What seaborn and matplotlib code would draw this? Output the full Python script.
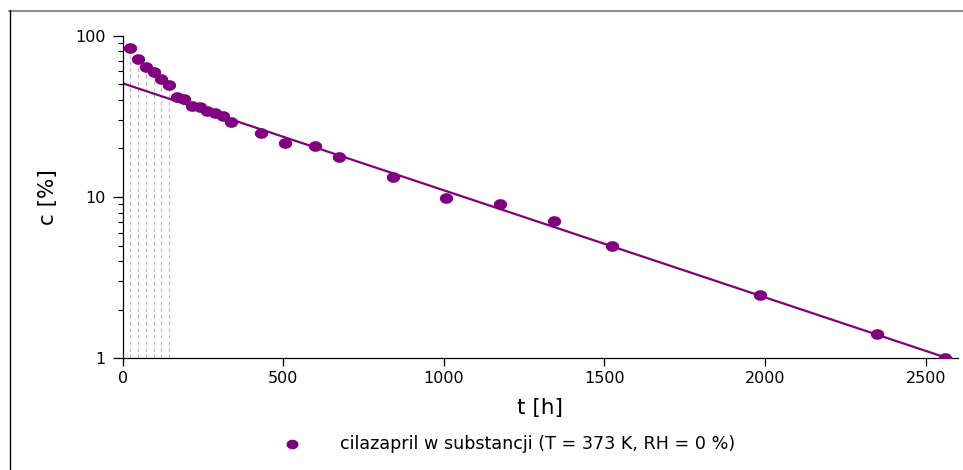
import matplotlib
matplotlib.use("Agg")
import matplotlib.pyplot as plt
from matplotlib.lines import Line2D
from matplotlib.path import Path
from matplotlib.ticker import LogLocator, FixedLocator, FixedFormatter, NullFormatter
import numpy as np
import pandas as pd
import seaborn as sns

# degradation of cilazapril: time [h] and remaining content [%]
t_h = [24, 48, 72, 96, 120, 144, 168, 192, 216, 240, 264, 288, 312, 336,
       432, 504, 600, 672, 840, 1008, 1176, 1344, 1524, 1984, 2348, 2560]
c_pct = [83.5, 71.7, 64.0, 59.8, 54.1, 49.7, 41.5, 40.5, 36.5, 36.0, 34.3, 33.0,
         31.8, 29.2, 24.8, 21.7, 20.7, 17.6, 13.25, 9.9, 9.0, 7.07, 4.97, 2.47,
         1.41, 1.01]

# first-order fit (straight on the log axis), given by its end points
fit_t = [0, 2576]
fit_c = [50.7, 0.99]

# early points marked with drop lines
n_drop = 6

x_ticks = [0, 500, 1000, 1500, 2000, 2500]
y_ticks = [1, 10, 100]
y_ticklabels = ["1", "10", "100"]

series_label = "cilazapril w substancji (T = 373 K, RH = 0 %)"
x_label = "t [h]"
y_label = "c [%]"

PURPLE = "#800080"

sns.set_style("white")
plt.rcParams["font.family"] = ["DejaVu Sans"]
plt.rcParams["text.color"] = "black"
plt.rcParams["axes.labelcolor"] = "black"
plt.rcParams["xtick.color"] = "black"
plt.rcParams["ytick.color"] = "black"

fig = plt.figure(figsize=(9.63, 4.70), dpi=100)
W, H = 963, 470
ax_l, ax_r = 122.7, 957.8
ax_t, ax_b = 35.7, 358.3
ax = fig.add_axes([ax_l / W, 1 - ax_b / H, (ax_r - ax_l) / W, (ax_b - ax_t) / H])

df = pd.DataFrame({"t": t_h, "c": c_pct})
fit_df = pd.DataFrame({"t": fit_t, "c": fit_c})

ax.set_yscale("log")
ax.set_xlim(0, 2600)
ax.set_ylim(1, 100)

# dashed drop lines from the first points to the time axis
for tx, cy in zip(t_h[:n_drop], c_pct[:n_drop]):
    ax.plot([tx, tx], [1, cy], color="#b5b5b5", lw=0.8, ls=(0, (3, 3)), zorder=1)

sns.lineplot(data=fit_df, x="t", y="c", color=PURPLE, lw=1.6, ax=ax, zorder=2)

# slightly flattened dot marker
theta = np.linspace(0, 2 * np.pi, 60)
ell = Path(np.column_stack([1.25 * np.cos(theta), np.sin(theta)]), closed=True)
sns.scatterplot(data=df, x="t", y="c", color=PURPLE, marker=ell, s=92,
                linewidth=0, ax=ax, zorder=3, label=series_label)

ax.xaxis.set_major_locator(FixedLocator(x_ticks))
ax.yaxis.set_major_locator(FixedLocator(y_ticks))
ax.yaxis.set_major_formatter(FixedFormatter(y_ticklabels))
ax.yaxis.set_minor_locator(LogLocator(base=10, subs=np.arange(2, 10)))
ax.yaxis.set_minor_formatter(NullFormatter())

for side in ("top", "right"):
    ax.spines[side].set_visible(False)
for side in ("left", "bottom"):
    ax.spines[side].set_color("black")
    ax.spines[side].set_linewidth(0.9)

ax.tick_params(axis="x", which="major", direction="out", length=5.5, width=0.9,
               color="black", labelcolor="black", labelsize=11.5, pad=3.5, bottom=True)
ax.tick_params(axis="y", which="major", direction="out", length=7.2, width=0.9,
               color="black", labelcolor="black", labelsize=11.5, pad=5, left=True)
ax.tick_params(axis="y", which="minor", direction="out", length=3.8, width=0.8,
               color="black", left=True)

ax.set_xlabel(x_label, fontsize=15.5, color="black")
ax.set_ylabel(y_label, fontsize=15.5, color="black")
ax.xaxis.label.set_va("center")
ax.yaxis.label.set_va("center")
ax.xaxis.set_label_coords(0.5, (ax_b - 408) / (ax_b - ax_t))
ax.yaxis.set_label_coords((48 - ax_l) / (ax_r - ax_l), 0.5)

leg = ax.legend(loc="center left", bbox_to_anchor=(283 / W, 1 - 444 / H),
                bbox_transform=fig.transFigure, frameon=False, fontsize=12.6,
                handlelength=1.0, handletextpad=2.25, borderpad=0, borderaxespad=0,
                markerscale=0.9)
for txt in leg.get_texts():
    txt.set_color("black")

# outline of the figure panel
fig.add_artist(Line2D([9 / W, 1], [1 - 10.5 / H, 1 - 10.5 / H], transform=fig.transFigure,
                      color="#8a8a8a", lw=1.4))
fig.add_artist(Line2D([9.5 / W, 9.5 / W], [0, 1 - 10 / H], transform=fig.transFigure,
                      color="black", lw=1.0))

fig.savefig("out.png", dpi=100)
